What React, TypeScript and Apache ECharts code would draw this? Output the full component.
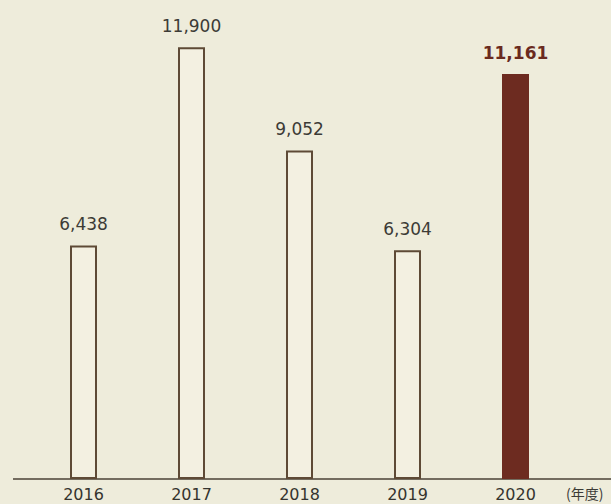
import React, { useEffect, useRef } from "react";
import * as echarts from "echarts";

const categories = ["2016", "2017", "2018", "2019", "2020"];
const values = [6438, 11900, 9052, 6304, 11161];
const unitLabel = "(年度)";

export default function App() {
  const ref = useRef<HTMLDivElement>(null);
  useEffect(() => {
    if (!ref.current) return;
    const chart = echarts.init(ref.current, undefined, { renderer: "svg" });
    const font = "'DejaVu Sans', sans-serif";
    const data = values.map((v, i) => {
      const last = i === values.length - 1;
      return {
        value: v,
        itemStyle: last
          ? { color: "#6d2b20", borderColor: "#6d2b20", borderWidth: 0 }
          : { color: "#f3f0e1", borderColor: "#5e4a36", borderWidth: 2 },
        label: last
          ? { color: "#6a2a1e", fontWeight: 700 }
          : { color: "#3c3b36", fontWeight: 400 },
      };
    });
    chart.setOption({
      animation: false,
      backgroundColor: "#eeecdb",
      grid: { left: 29.5, width: 540, top: 20, bottom: 25 },
      xAxis: {
        type: "category",
        data: categories,
        axisLine: { show: false },
        axisTick: { show: false },
        axisLabel: {
          color: "#35342f",
          fontSize: 16,
          fontFamily: font,
          margin: 7,
        },
      },
      yAxis: {
        type: "value",
        min: 0,
        max: 12650,
        show: false,
        splitLine: { show: false },
      },
      graphic: [
        {
          type: "line",
          shape: { x1: 13, y1: 479, x2: 611, y2: 479 },
          style: { stroke: "#4a4236", lineWidth: 1.5 },
        },
        {
          type: "text",
          x: 566,
          y: 486,
          style: {
            text: unitLabel,
            fill: "#3c3b36",
            fontSize: 14,
            fontFamily: "'Noto Sans CJK JP', sans-serif",
          },
        },
      ],
      series: [
        {
          type: "bar",
          data,
          barWidth: 27,
          label: {
            show: true,
            position: "top",
            distance: 13,
            fontSize: 17,
            fontFamily: font,
            formatter: (p: any) => p.value.toLocaleString("en-US"),
          },
        },
      ],
    });
    return () => chart.dispose();
  }, []);
  return (
    <div
      ref={ref}
      style={{ position: "fixed", left: 0, top: 0, width: 611, height: 504 }}
    />
  );
}
